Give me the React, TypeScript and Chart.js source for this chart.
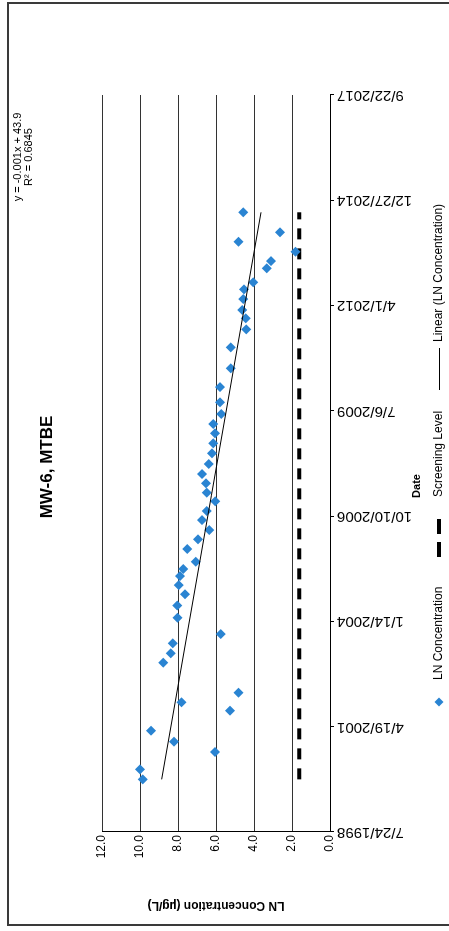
import React, { useEffect, useRef } from "react";
import { Chart, registerables } from "chart.js";

Chart.register(...registerables);

// ---- data ----
const sampleDates = [
  "1999-12-06", "2000-03-10", "2000-08-22", "2000-11-28", "2001-03-12",
  "2001-09-18", "2001-12-07", "2002-03-08", "2002-12-18", "2003-03-17",
  "2003-06-20", "2003-09-16", "2004-02-18", "2004-06-13", "2004-09-28",
  "2004-12-24", "2005-03-20", "2005-05-26", "2005-08-03", "2005-12-02",
  "2006-03-04", "2006-05-31", "2006-09-03", "2006-11-28", "2007-02-28",
  "2007-05-21", "2007-08-18", "2007-11-14", "2008-02-17", "2008-05-29",
  "2008-09-01", "2008-12-05", "2009-03-03", "2009-06-06", "2009-09-25",
  "2010-02-17", "2010-08-14", "2011-03-01", "2011-08-19", "2011-12-02",
  "2012-02-19", "2012-06-02", "2012-09-02", "2012-11-08", "2013-03-21",
  "2013-05-29", "2013-08-25", "2013-11-28", "2014-02-26", "2014-09-04",
];
const lnConcentration = [
  9.86, 10.0, 6.05, 8.21, 9.42,
  5.26, 7.81, 4.81, 8.77, 8.38,
  8.28, 5.75, 8.02, 8.04, 7.63,
  7.96, 7.89, 7.72, 7.07, 7.51,
  6.95, 6.35, 6.74, 6.49, 6.04,
  6.49, 6.53, 6.74, 6.38, 6.21,
  6.14, 6.05, 6.14, 5.72, 5.79,
  5.79, 5.23, 5.23, 4.41, 4.44,
  4.62, 4.56, 4.53, 4.04, 3.33,
  3.11, 1.81, 4.81, 2.63, 4.56,
];
const screeningDates = ["1999-12-06", "2014-09-04"];
const screeningValues = [1.62, 1.62];
const trendDates = ["1999-12-06", "2014-09-04"];
const trendValues = [8.86, 3.63];

const axisStartDate = "1998-07-24";
const axisSpanDays = 7000;
const axisStepDays = 1000;
const yTicksMax = 12;
const yTickStep = 2;

const titleText = "MW-6, MTBE";
const equationText = "y = -0.001x + 43.9";
const r2Text = "R\u00B2 = 0.6845";
const yTitle = "LN Concentration (\u00B5g/L)";
const xTitle = "Date";
const legendLabels = ["LN Concentration", "Screening Level", "Linear (LN Concentration)"];

// ---- helpers ----
const DAY = 86400000;
const parseUTC = (s: string) => {
  const [y, m, d] = s.split("-").map(Number);
  return Date.UTC(y, m - 1, d);
};
const base = parseUTC(axisStartDate);
const toDays = (s: string) => Math.round((parseUTC(s) - base) / DAY);
const fmtDate = (days: number) => {
  const d = new Date(base + days * DAY);
  return `${d.getUTCMonth() + 1}/${d.getUTCDate()}/${d.getUTCFullYear()}`;
};

const W = 931;
const H = 449;
const FONT = "'Liberation Sans', Arial, sans-serif";
const BLUE = "#2a84d2";

export default function App() {
  const ref = useRef<HTMLCanvasElement | null>(null);

  useEffect(() => {
    const canvas = ref.current;
    if (!canvas) return;

    const decor = {
      id: "decor",
      afterDraw(chart: any) {
        const ctx = chart.ctx as CanvasRenderingContext2D;
        const area = chart.chartArea;
        ctx.save();
        // frame
        ctx.strokeStyle = "#3a3a3a";
        ctx.lineWidth = 2;
        ctx.strokeRect(6, 8, 922, 470);

        ctx.fillStyle = "#000";
        ctx.textBaseline = "middle";
        ctx.textAlign = "center";
        // title
        ctx.font = `bold 17px ${FONT}`;
        ctx.fillText(titleText, 464, 47);
        // equation
        ctx.font = `11px ${FONT}`;
        ctx.fillText(equationText, 774, 18);
        ctx.fillText(r2Text, 774, 29);
        // x title
        ctx.font = `bold 11px ${FONT}`;
        ctx.fillText(xTitle, 445, 417);
        // y title
        ctx.font = `bold 12px ${FONT}`;
        ctx.save();
        ctx.translate(26, (area.top + area.bottom) / 2);
        ctx.rotate(-Math.PI / 2);
        ctx.fillText(yTitle, 0, 0);
        ctx.restore();

        // legend
        const ly = 439;
        ctx.font = `12px ${FONT}`;
        ctx.textAlign = "left";
        // diamond
        ctx.fillStyle = BLUE;
        ctx.beginPath();
        ctx.moveTo(229 - 4.5, ly);
        ctx.lineTo(229, ly - 4.5);
        ctx.lineTo(229 + 4.5, ly);
        ctx.lineTo(229, ly + 4.5);
        ctx.closePath();
        ctx.fill();
        ctx.fillStyle = "#000";
        ctx.fillText(legendLabels[0], 251, ly);
        // dashed
        ctx.strokeStyle = "#000";
        ctx.lineWidth = 4;
        ctx.setLineDash([15, 8]);
        ctx.beginPath();
        ctx.moveTo(374, ly);
        ctx.lineTo(412, ly);
        ctx.stroke();
        ctx.setLineDash([]);
        ctx.fillText(legendLabels[1], 434, ly);
        // solid
        ctx.lineWidth = 1;
        ctx.beginPath();
        ctx.moveTo(541, ly + 0.5);
        ctx.lineTo(583, ly + 0.5);
        ctx.stroke();
        ctx.fillText(legendLabels[2], 589, ly);
        ctx.restore();
      },
    };

    const points = sampleDates.map((d, i) => ({ x: toDays(d), y: lnConcentration[i] }));
    const screening = screeningDates.map((d, i) => ({ x: toDays(d), y: screeningValues[i] }));
    const trend = trendDates.map((d, i) => ({ x: toDays(d), y: trendValues[i] }));

    const chart = new Chart(canvas, {
      type: "scatter",
      data: {
        datasets: [
          {
            label: legendLabels[0],
            data: points,
            pointStyle: "rectRot",
            pointRadius: 5,
            backgroundColor: BLUE,
            borderColor: BLUE,
            borderWidth: 0,
            order: 1,
          },
          {
            label: legendLabels[1],
            data: screening,
            showLine: true,
            borderColor: "#000",
            borderWidth: 4,
            borderDash: [11, 9],
            pointRadius: 0,
            order: 2,
          } as any,
          {
            label: legendLabels[2],
            data: trend,
            showLine: true,
            borderColor: "#000",
            borderWidth: 1,
            pointRadius: 0,
            order: 0,
          } as any,
        ],
      },
      options: {
        responsive: false,
        animation: false,
        events: [],
        layout: { padding: { left: 0, right: 95, top: 102, bottom: 0 } },
        plugins: { legend: { display: false }, tooltip: { enabled: false }, title: { display: false } },
        scales: {
          x: {
            type: "linear",
            min: 0,
            max: axisSpanDays,
            grid: { drawOnChartArea: false, drawTicks: true, tickLength: 4, color: "#000" },
            border: { color: "#000", width: 1 },
            ticks: {
              stepSize: axisStepDays,
              autoSkip: false,
              minRotation: 90,
              maxRotation: 90,
              padding: 3,
              color: "#000",
              font: { family: FONT, size: 15 },
              callback: (v: any) => fmtDate(Number(v)),
            },
            afterFit: (s: any) => {
              s.height = 119;
            },
          },
          y: {
            min: 0,
            max: yTicksMax,
            grid: { drawTicks: false, color: "#333", lineWidth: 1 },
            border: { color: "#000", width: 1 },
            ticks: {
              stepSize: yTickStep,
              padding: 3,
              color: "#000",
              font: { family: FONT, size: 12 },
              callback: (v: any) => Number(v).toFixed(1),
            },
            afterFit: (s: any) => {
              s.width = 99;
            },
          },
        },
      } as any,
      plugins: [decor],
    });

    return () => chart.destroy();
  }, []);

  return (
    <div
      style={{
        position: "fixed",
        left: 0,
        top: 0,
        width: W,
        height: H,
        background: "#fff",
        transformOrigin: "0 0",
        transform: `translate(0px, ${W}px) rotate(-90deg)`,
      }}
    >
      <canvas ref={ref} width={W} height={H} style={{ width: W, height: H, display: "block" }} />
    </div>
  );
}
